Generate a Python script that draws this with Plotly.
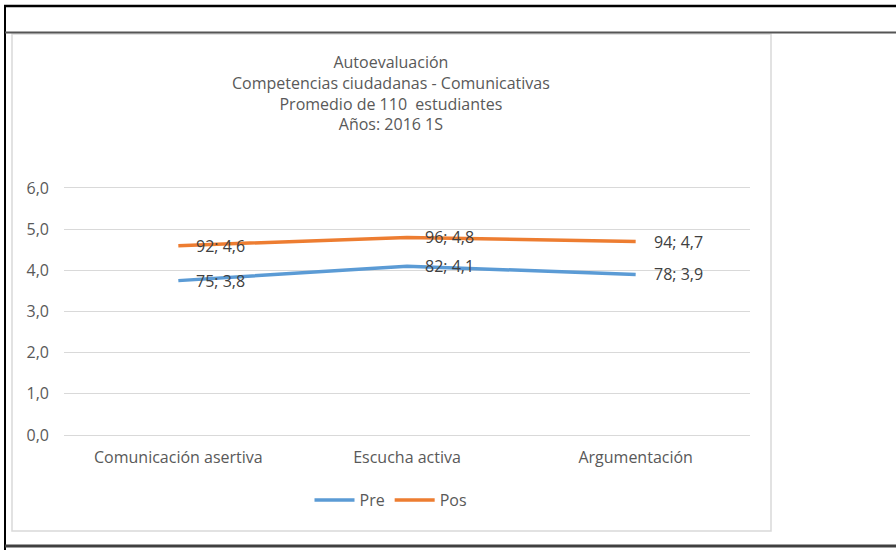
import plotly.graph_objects as go

# ── Datos ─────────────────────────────────────────────────────────────────────
categorias = ["Comunicación asertiva", "Escucha activa", "Argumentación"]
pre_valores = [3.75, 4.1, 3.9]
pos_valores = [4.6, 4.8, 4.7]
pre_pct = [75, 82, 78]
pos_pct = [92, 96, 94]
y_ticks = [0, 1, 2, 3, 4, 5, 6]

COLORS = {
    "blue": "#5B9BD5",
    "orange": "#ED7D31",
    "text": "#595959",
    "grid": "#D9D9D9",
}
FONT = "Open Sans, sans-serif"
FS = 16

W, H = 896, 550


def px_x(v):
    return v / W


def px_y(v):
    return 1 - v / H


# ejes: 6,0 en y=188 px, 0,0 en y=435 px (con un pequeño margen para que se vean las rejillas extremas)
PAD = 0.03
unit = (435 - 188) / 6
y_top = 188 - PAD * unit
y_bot = 435 + PAD * unit

fig = go.Figure()
fig.add_trace(go.Scatter(
    x=categorias, y=pre_valores, name="Pre", mode="lines",
    line=dict(color=COLORS["blue"], width=3.5),
))
fig.add_trace(go.Scatter(
    x=categorias, y=pos_valores, name="Pos", mode="lines",
    line=dict(color=COLORS["orange"], width=3.5),
))

# Etiquetas de datos "pct; valor"
for vals, pcts in ((pre_valores, pre_pct), (pos_valores, pos_pct)):
    for cat, v, p in zip(categorias, vals, pcts):
        fig.add_annotation(
            x=cat, y=v, text=f"{p}; {v:.1f}".replace(".", ","),
            showarrow=False, xanchor="left", yanchor="middle", xshift=16,
            font=dict(family=FONT, size=FS, color="#404040"),
        )

# Título
fig.add_annotation(
    x=px_x(391), y=px_y(49), xref="paper", yref="paper",
    text="Autoevaluación<br>Competencias ciudadanas - Comunicativas<br>"
         "Promedio de 110  estudiantes<br>Años: 2016 1S",
    showarrow=False, xanchor="center", yanchor="top", align="center",
    font=dict(family=FONT, size=FS, color=COLORS["text"]),
)

# Marcos (tabla de Word + borde del gráfico)
shapes = [
    dict(type="rect", x0=px_x(12), x1=px_x(771), y0=px_y(34), y1=px_y(531),
         line=dict(color="#D9D9D9", width=1.5)),
    dict(type="line", x0=px_x(4), x1=1, y0=px_y(6), y1=px_y(6),
         line=dict(color="#000000", width=2.5)),
    dict(type="line", x0=px_x(5), x1=px_x(5), y0=px_y(5), y1=0,
         line=dict(color="#000000", width=2)),
    dict(type="line", x0=px_x(5), x1=1, y0=px_y(32.5), y1=px_y(32.5),
         line=dict(color="#555555", width=2)),
    dict(type="line", x0=px_x(5), x1=1, y0=px_y(546), y1=px_y(546),
         line=dict(color="#404040", width=3)),
]
for s in shapes:
    s.update(xref="paper", yref="paper", layer="above")

fig.update_layout(
    width=W, height=H,
    margin=dict(l=0, r=0, t=0, b=0, pad=0, autoexpand=False),
    paper_bgcolor="white", plot_bgcolor="white",
    separators=",.",
    font=dict(family=FONT, size=FS, color=COLORS["text"]),
    shapes=shapes,
    showlegend=True,
    legend=dict(
        orientation="h", x=px_x(391), y=px_y(500), xanchor="center", yanchor="middle",
        font=dict(family=FONT, size=FS, color=COLORS["text"]),
        itemwidth=40, tracegroupgap=0,
    ),
    xaxis=dict(
        domain=[px_x(64), px_x(750)], range=[-0.5, 2.5],
        showgrid=False, showline=False, zeroline=False,
        ticks="", ticklabelstandoff=10,
        tickfont=dict(family=FONT, size=FS, color=COLORS["text"]),
        fixedrange=True,
    ),
    yaxis=dict(
        domain=[px_y(y_bot), px_y(y_top)], range=[-PAD, 6 + PAD],
        tickvals=y_ticks, tickformat=".1f",
        gridcolor=COLORS["grid"], gridwidth=1,
        zeroline=False, showline=False, ticks="",
        ticklabelstandoff=14,
        tickfont=dict(family=FONT, size=FS, color=COLORS["text"]),
        fixedrange=True,
    ),
)

# la página sin márgenes: el gráfico ocupa exactamente la ventana
POST = (
    "document.body.style.margin='0';document.body.style.padding='0';"
)

fig.write_html("out.html", post_script=POST, config={"displayModeBar": False})
